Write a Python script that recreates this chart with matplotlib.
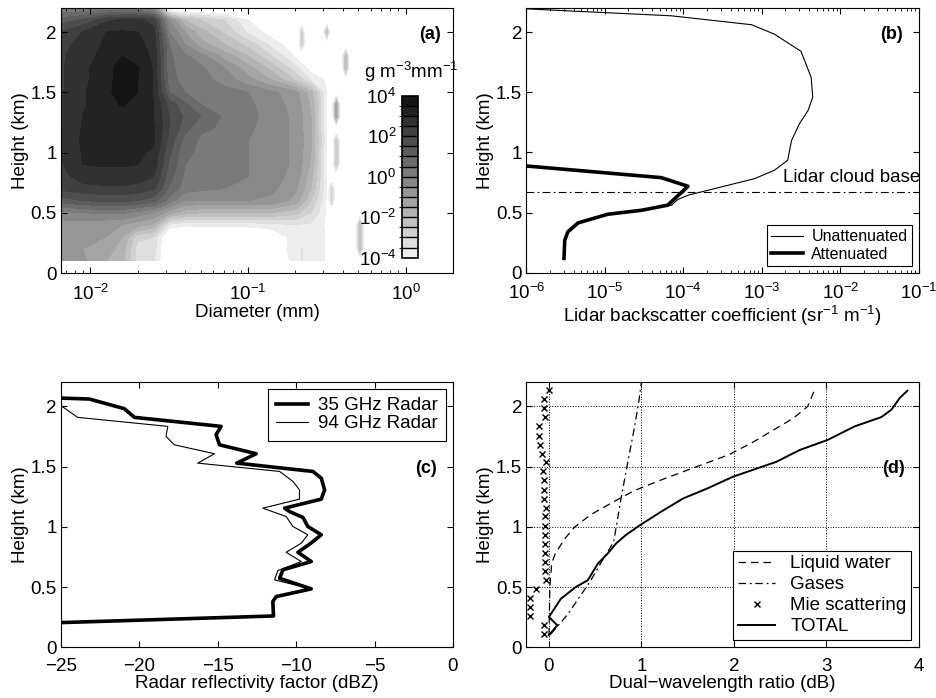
import numpy as np
import matplotlib
matplotlib.use("Agg")
import matplotlib.pyplot as plt
from matplotlib.colors import ListedColormap, BoundaryNorm

plt.rcParams['font.family'] = ['Liberation Sans', 'DejaVu Sans']
plt.rcParams['mathtext.fontset'] = 'custom'
plt.rcParams['mathtext.rm'] = 'Liberation Sans'
plt.rcParams['mathtext.it'] = 'Liberation Sans:italic'
plt.rcParams['mathtext.bf'] = 'Liberation Sans:bold'
plt.rcParams['axes.linewidth'] = 0.8

# ---- (a) size distribution, log10(g m-3 mm-1) on a diameter x height grid
psd_log_diam = [-2.2, -2.05, -1.9, -1.8, -1.7, -1.6, -1.5, -1.4, -1.3, -1.15,
                -1.0, -0.85, -0.7, -0.6, -0.5, -0.4, -0.3]
psd_height = [0.1, 0.2, 0.3, 0.4, 0.5, 0.6, 0.7, 0.8, 0.9, 1.0, 1.1,
              1.2, 1.3, 1.4, 1.5, 1.6, 1.7, 1.8, 1.9, 2.0, 2.1, 2.2]
psd_log10 = [
    [-0.9, -0.9, -1.5, -1.8, -3.2, -3.4, -5, -5, -5, -5, -5, -4.5, -3.8, -3.7, -4.05, -5, -5],
    [-0.8, -1.0, -1.3, -1.7, -3.3, -3.3, -5, -5, -5, -5, -5, -4.5, -3.7, -3.7, -4.05, -5, -5],
    [-0.8, -0.9, -1.0, -1.5, -2.8, -3.0, -5, -5, -5, -5, -5, -4.5, -3.7, -3.7, -4.05, -5, -5],
    [-0.7, -0.8, -0.9, -1.0, -1.3, -1.6, -3.6, -3.9, -3.8, -3.8, -3.8, -3.7, -3.5, -3.6, -4.1, -5, -5],
    [-0.2, 0.0, 0.1, 0.1, -0.2, -0.5, -1.3, -1.8, -2.0, -2.0, -2.0, -2.0, -2.3, -3.0, -4.1, -5, -5],
    [1.2, 1.5, 1.6, 1.6, 1.5, 1.2, 0.3, -0.5, -0.5, -0.5, -0.5, -0.6, -1.2, -2.5, -4.1, -5, -5],
    [2.1, 2.3, 2.4, 2.4, 2.3, 2.1, 0.9, 0.2, 0.1, 0.0, -0.2, -0.4, -0.9, -2.0, -4.0, -5, -5],
    [2.3, 2.75, 2.8, 2.8, 2.75, 2.5, 1.2, 0.4, 0.3, 0.2, 0.0, -0.3, -0.7, -1.8, -4.0, -5, -5],
    [2.4, 3.0, 3.05, 3.05, 3.0, 2.75, 1.4, 0.5, 0.4, 0.3, 0.0, -0.3, -0.6, -1.6, -4.0, -5, -5],
    [2.45, 3.05, 3.2, 3.2, 3.1, 2.9, 1.6, 0.6, 0.4, 0.3, 0.0, -0.3, -0.6, -1.5, -4.0, -5, -5],
    [2.45, 3.1, 3.2, 3.2, 3.2, 3.1, 1.8, 0.8, 0.4, 0.3, 0.0, -0.3, -0.6, -1.4, -4.0, -5, -5],
    [2.4, 3.05, 3.2, 3.25, 3.2, 3.05, 2.0, 1.2, 0.6, 0.4, 0.1, -0.3, -0.6, -1.5, -4.0, -5, -5],
    [2.4, 3.0, 3.2, 3.3, 3.2, 3.0, 2.0, 1.4, 1.0, 0.4, 0.2, -0.3, -0.6, -1.5, -4.0, -5, -5],
    [2.4, 2.95, 3.3, 3.55, 3.3, 3.02, 1.8, 1.1, 0.5, 0.3, 0.1, -0.3, -0.7, -1.6, -4.0, -5, -5],
    [2.4, 2.95, 3.35, 3.8, 3.5, 2.95, 1.0, 0.5, 0.3, 0.2, 0.0, -0.4, -0.8, -1.8, -4.1, -5, -5],
    [2.4, 2.9, 3.3, 3.8, 3.5, 2.95, 0.7, 0.3, 0.2, -0.2, -0.8, -1.5, -2.5, -3.5, -4.1, -5, -5],
    [2.4, 2.9, 3.3, 3.75, 3.55, 2.95, 0.6, 0.3, 0.1, -0.5, -1.3, -2.2, -3.3, -4.3, -5, -5, -5],
    [2.4, 2.8, 3.2, 3.5, 3.25, 2.9, 0.6, 0.1, -0.3, -1.2, -2.0, -3.0, -4.1, -5, -5, -5, -5],
    [2.3, 2.7, 3.1, 3.2, 3.15, 2.8, 0.5, -0.5, -1.3, -2.0, -2.7, -3.7, -4.5, -5, -5, -5, -5],
    [2.0, 2.5, 3.0, 3.05, 3.0, 2.7, 0.0, -1.0, -1.8, -2.6, -3.6, -4.3, -5, -5, -5, -5, -5],
    [1.2, 1.6, 2.4, 2.6, 2.6, 2.3, -0.5, -2.0, -2.5, -3.0, -4.0, -5, -5, -5, -5, -5, -5],
    [0.0, 0.0, 0.0, 0.0, 0.0, -0.5, -5, -5, -5, -5, -5, -5, -5, -5, -5, -5, -5],
]
psd_levels = np.arange(-4, 4.01, 0.5)

# isolated sparse bins at large diameters (thin streaks)
sparse_log_diam = [-0.69, -0.66, -0.63, -0.53, -0.5, -0.47, -0.44, -0.41,
                   -0.38, -0.35, -0.32, -0.29, -0.26]
sparse_bin_d = [-0.66, -0.66, -0.5, -0.38, -0.38, -0.44, -0.44, -0.44, -0.44,
                -0.44, -0.47, -0.47, -0.29, -0.29, -0.29, -0.66, -0.66]
sparse_bin_h = [1.9, 2.0, 2.0, 1.7, 1.8, 1.3, 1.4, 0.9, 1.0,
                1.1, 0.6, 0.7, 0.2, 0.3, 0.4, 0.1, 0.2]
sparse_bin_val = [-2.8, -2.8, -2.0, -2.0, -2.0, -1.2, -1.2, -2.5, -2.5,
                  -2.5, -2.8, -2.8, -2.0, -2.0, -2.0, -3.3, -3.3]

# ---- (b) lidar backscatter, log10(sr-1 m-1) vs height (km)
unatt_log = [-6.0, -4.15, -3.13, -2.84, -2.50, -2.37, -2.35, -2.41, -2.52, -2.62,
             -2.67, -2.84, -3.09, -3.60, -3.94, -4.07, -4.15, -4.53, -4.96,
             -5.34, -5.47, -5.51, -5.52]
unatt_h = [2.193, 2.135, 2.061, 1.983, 1.840, 1.624, 1.459, 1.348, 1.238, 1.099,
           0.934, 0.851, 0.782, 0.699, 0.644, 0.608, 0.561, 0.519, 0.486,
           0.414, 0.34, 0.27, 0.119]
att_log = [-6.0, -4.28, -3.94, -4.03, -4.20, -4.53, -4.96, -5.34, -5.47, -5.51, -5.52]
att_h = [0.887, 0.79, 0.718, 0.663, 0.561, 0.519, 0.486, 0.414, 0.34, 0.27, 0.119]
cloud_base = 0.671

# ---- (c) radar reflectivity (dBZ) vs height (km)
z35_dbz = [-25.0, -23.19, -20.96, -20.32, -14.79, -15.11, -14.89, -12.55, -13.79,
           -8.94, -8.40, -8.19, -8.40, -10.74, -10.43, -9.57, -9.26, -8.40,
           -9.15, -9.89, -9.04, -10.85, -11.06, -9.04, -11.28, -11.49, -11.45, -25.0]
z35_h = [2.069, 2.061, 1.981, 1.909, 1.834, 1.765, 1.681, 1.607, 1.529,
         1.460, 1.404, 1.307, 1.230, 1.155, 1.127, 1.078, 1.003, 0.934,
         0.856, 0.789, 0.712, 0.643, 0.573, 0.485, 0.421, 0.380, 0.260, 0.205]
z94_dbz = [-25.0, -23.94, -18.19, -18.30, -17.77, -15.21, -16.28, -11.06, -10.21,
           -9.79, -9.79, -12.13, -10.64, -10.21, -9.26, -9.68, -10.64, -9.68,
           -11.17, -11.38, -9.04, -11.28, -11.49, -11.45, -25.0]
z94_h = [2.006, 1.909, 1.834, 1.751, 1.681, 1.607, 1.529, 1.460, 1.377,
         1.307, 1.230, 1.155, 1.086, 1.003, 0.934, 0.864, 0.789, 0.712,
         0.637, 0.560, 0.485, 0.421, 0.380, 0.260, 0.205]

# ---- (d) dual-wavelength ratio contributions (dB) vs height (km)
liq_dwr = [0.0, 0.01, 0.03, 0.07, 0.17, 0.28, 0.45, 0.68, 0.92, 1.25, 1.6,
           1.95, 2.2, 2.42, 2.64, 2.8, 2.88]
liq_h = [0.1, 0.5, 0.7, 0.78, 0.9, 1.0, 1.1, 1.2, 1.3, 1.4, 1.5,
         1.6, 1.7, 1.8, 1.9, 2.0, 2.15]
gas_dwr = [0.02, 0.2, 0.44, 0.6, 0.70, 0.78, 0.84, 0.92, 0.97, 1.0]
gas_h = [0.11, 0.27, 0.54, 0.75, 0.875, 1.235, 1.485, 1.806, 2.028, 2.2]
mie_dwr = [0.0, -0.058, -0.054, -0.047, -0.112, -0.112, -0.101, -0.076, -0.029,
           -0.065, -0.058, -0.058, -0.058, -0.036, -0.047, -0.047, -0.047, -0.040,
           -0.040, -0.040, -0.040, -0.036, -0.137, -0.202, -0.209, -0.209, -0.054, -0.054]
mie_h = [2.139, 2.061, 1.986, 1.911, 1.834, 1.756, 1.681, 1.607, 1.535,
         1.460, 1.385, 1.307, 1.233, 1.155, 1.086, 1.008, 0.934, 0.859,
         0.787, 0.709, 0.637, 0.560, 0.482, 0.407, 0.332, 0.260, 0.186, 0.111]
tot_dwr = [0.0, 0.09, 0.0, 0.13, 0.29, 0.42, 0.53, 0.635, 0.725, 0.83, 0.985,
           1.216, 1.45, 1.72, 1.99, 2.46, 2.71, 3.019, 3.307, 3.596, 3.704,
           3.794, 3.877]
tot_h = [0.10, 0.183, 0.252, 0.404, 0.50, 0.557, 0.695, 0.778, 0.861, 0.931, 1.014,
         1.127, 1.235, 1.321, 1.416, 1.54, 1.637, 1.723, 1.834, 1.911, 1.972,
         2.069, 2.130]

height_ticks = [0, 0.5, 1, 1.5, 2]
height_labels = ['0', '0.5', '1', '1.5', '2']

FS = 13.5
W, H = 936, 698
fig = plt.figure(figsize=(W / 100, H / 100), dpi=100)


def px_axes(left, top, right, bottom):
    return fig.add_axes([left / W, 1 - bottom / H, (right - left) / W, (bottom - top) / H])


def style(ax, xpad):
    ax.tick_params(which='both', direction='in', top=True, right=True, labelsize=FS)
    ax.tick_params(which='major', length=4, width=0.8)
    ax.tick_params(which='minor', length=2.5, width=0.6)
    ax.tick_params(axis='x', pad=xpad)
    ax.tick_params(axis='y', pad=3)
    ax.set_ylim(0, 2.2)
    ax.set_yticks(height_ticks)
    ax.set_yticklabels(height_labels)
    ax.set_ylabel('Height (km)', fontsize=FS, labelpad=1)


# (a)
ax_a = px_axes(61, 8, 453, 273)
grays = np.linspace(0.93, 0.08, len(psd_levels) - 1)
cmap = ListedColormap([(g, g, g) for g in grays])
norm = BoundaryNorm(psd_levels, cmap.N)
cf = ax_a.contourf(10 ** np.array(psd_log_diam), psd_height, np.array(psd_log10),
                   levels=psd_levels, cmap=cmap, norm=norm)
sparse = np.full((len(psd_height), len(sparse_log_diam)), -5.0)
for d, h, v in zip(sparse_bin_d, sparse_bin_h, sparse_bin_val):
    sparse[psd_height.index(h), sparse_log_diam.index(d)] = v
ax_a.contourf(10 ** np.array(sparse_log_diam), psd_height, sparse,
              levels=psd_levels, cmap=cmap, norm=norm)
ax_a.set_xscale('log')
ax_a.set_xlim(0.0065, 2.0)
style(ax_a, 7.5)
ax_a.set_xlabel('Diameter (mm)', fontsize=FS, labelpad=0.5)
ax_a.text(0.968, 0.90, '(a)', transform=ax_a.transAxes, ha='right', va='center',
          fontsize=13, fontweight='bold')

cax = px_axes(401.7, 95.7, 417.7, 257.7)
cb = fig.colorbar(cf, cax=cax, ticks=[-4, -2, 0, 2, 4], drawedges=True)
cb.ax.set_yticklabels([r'$10^{-4}$', r'$10^{-2}$', r'$10^{0}$', r'$10^{2}$', r'$10^{4}$'])
cb.ax.yaxis.set_ticks_position('left')
cb.ax.tick_params(labelsize=FS, length=0, pad=4)
cb.outline.set_linewidth(1.2)
cb.dividers.set_linewidth(1.0)
fig.text(411 / W, 1 - 72 / H, r'g m$^{-3}$mm$^{-1}$', ha='center', va='center', fontsize=FS)

# (b)
ax_b = px_axes(526.3, 8, 918.7, 272.7)
ax_b.plot(10 ** np.array(unatt_log), unatt_h, color='black', lw=0.8, label='Unattenuated')
ax_b.plot(10 ** np.array(att_log), att_h, color='black', lw=2.6, label='Attenuated')
ax_b.axhline(cloud_base, color='black', lw=0.8, dashes=(7, 3, 1.5, 3))
ax_b.set_xscale('log')
ax_b.set_xlim(1e-6, 1e-1)
style(ax_b, 7.5)
ax_b.set_xlabel(r'Lidar backscatter coefficient (sr$^{-1}$ m$^{-1}$)', fontsize=FS, labelpad=0.5)
ax_b.text(1.003, 0.36, 'Lidar cloud base', transform=ax_b.transAxes, ha='right',
          va='center', fontsize=FS)
ax_b.text(0.96, 0.90, '(b)', transform=ax_b.transAxes, ha='right', va='center',
          fontsize=13, fontweight='bold')
leg = ax_b.legend(loc='lower right', fontsize=11.5, fancybox=False, edgecolor='black',
                  framealpha=1, borderaxespad=0.45, handlelength=2.0, labelspacing=0.15,
                  borderpad=0.25, handletextpad=0.5)
leg.get_frame().set_linewidth(0.8)

# (c)
ax_c = px_axes(61, 382.3, 453, 647.3)
ax_c.plot(z35_dbz, z35_h, color='black', lw=2.6, label='35 GHz Radar')
ax_c.plot(z94_dbz, z94_h, color='black', lw=0.8, label='94 GHz Radar')
ax_c.set_xlim(-25, 0)
ax_c.set_xticks([-25, -20, -15, -10, -5, 0])
style(ax_c, 8)
ax_c.set_xlabel('Radar reflectivity factor (dBZ)', fontsize=FS, labelpad=0)
ax_c.text(0.959, 0.673, '(c)', transform=ax_c.transAxes, ha='right', va='center',
          fontsize=13, fontweight='bold')
leg = ax_c.legend(loc='upper right', fontsize=FS, fancybox=False, edgecolor='black',
                  framealpha=1, borderaxespad=0.35, handlelength=1.7, labelspacing=0.05,
                  borderpad=0.45, handletextpad=0.55)
leg.get_frame().set_linewidth(0.8)

# (d)
ax_d = px_axes(526.3, 382.3, 918.7, 647.3)
ax_d.grid(True, color='black', ls=':', lw=0.7)
ax_d.plot(liq_dwr, liq_h, color='black', lw=0.9, dashes=(6, 4), label='Liquid water')
ax_d.plot(gas_dwr, gas_h, color='black', lw=0.9, dashes=(6, 3, 1.5, 3), label='Gases')
ax_d.plot(mie_dwr, mie_h, ls='none', marker='x', ms=4.5, mew=1.0, color='black',
          label='Mie scattering')
ax_d.plot(tot_dwr, tot_h, color='black', lw=1.4, label='TOTAL')
ax_d.set_xlim(-0.245, 4)
ax_d.set_xticks([0, 1, 2, 3, 4])
style(ax_d, 8)
ax_d.set_axisbelow(True)
ax_d.set_xlabel('Dual\u2212wavelength ratio (dB)', fontsize=FS, labelpad=0)
ax_d.text(0.965, 0.673, '(d)', transform=ax_d.transAxes, ha='right', va='center',
          fontsize=13, fontweight='bold')
leg = ax_d.legend(loc='lower right', fontsize=FS, fancybox=False, edgecolor='black',
                  framealpha=1, borderaxespad=0.4, handlelength=2.0, labelspacing=0.2,
                  borderpad=0.25, handletextpad=0.8)
leg.get_frame().set_linewidth(0.8)

fig.savefig('out.png', dpi=100)
